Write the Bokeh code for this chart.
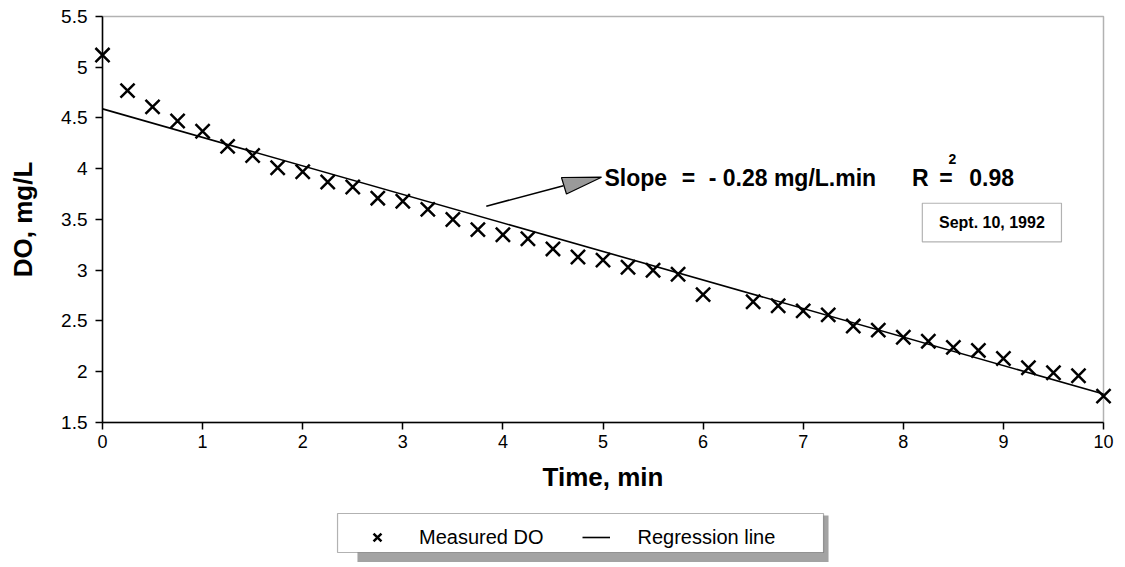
from bokeh.plotting import figure
from bokeh.models import (Range1d, FixedTicker, Legend, LegendItem, Label,
                          BoxAnnotation)
from bokeh.embed import file_html
from bokeh.resources import INLINE

# ---------------- data ----------------
time_min = [0.0, 0.25, 0.5, 0.75, 1.0, 1.25, 1.5, 1.75, 2.0, 2.25,
            2.5, 2.75, 3.0, 3.25, 3.5, 3.75, 4.0, 4.25, 4.5, 4.75,
            5.0, 5.25, 5.5, 5.75, 6.0, 6.5, 6.75, 7.0, 7.25, 7.5,
            7.75, 8.0, 8.25, 8.5, 8.75, 9.0, 9.25, 9.5, 9.75, 10.0]
do_mgL = [5.12, 4.77, 4.61, 4.47, 4.37, 4.22, 4.13, 4.01, 3.97, 3.87,
          3.82, 3.71, 3.68, 3.60, 3.50, 3.40, 3.35, 3.31, 3.21, 3.13,
          3.10, 3.03, 3.00, 2.96, 2.76, 2.69, 2.65, 2.60, 2.56, 2.45,
          2.41, 2.34, 2.30, 2.24, 2.21, 2.13, 2.04, 1.99, 1.96, 1.76]
reg_time = [0.0, 10.0]
reg_do = [4.59, 1.78]

x_ticks = [0, 1, 2, 3, 4, 5, 6, 7, 8, 9, 10]
y_ticks = [1.5, 2.0, 2.5, 3.0, 3.5, 4.0, 4.5, 5.0, 5.5]
y_tick_labels = ["1.5", "2", "2.5", "3", "3.5", "4", "4.5", "5", "5.5"]

series_names = ["Measured DO", "Regression line"]
annotation_text = ["Slope", "=", "- 0.28 mg/L.min", "R", "=", "0.98"]
date_text = "Sept. 10, 1992"

FONT = "Liberation Sans"

# The frame covers the whole canvas so that the legend box (below the axes)
# is not clipped; the axes are pinned at x=0 / y=1.5.
p = figure(width=1120, height=562, output_backend="svg", toolbar_location=None,
           x_range=Range1d(-1.019, 10.1698), y_range=Range1d(0.1207, 5.6576),
           min_border_left=0, min_border_right=0, min_border_top=0,
           min_border_bottom=0, background_fill_color="white",
           border_fill_color="white")

p.xgrid.visible = False
p.ygrid.visible = False
p.outline_line_color = None

# axes
p.xaxis.ticker = FixedTicker(ticks=x_ticks)
p.yaxis.ticker = FixedTicker(ticks=y_ticks)
p.yaxis.major_label_overrides = {t: l for t, l in zip(y_ticks, y_tick_labels)}
p.xaxis.fixed_location = 1.5
p.yaxis.fixed_location = 0
p.xaxis.bounds = (0, 10)
p.yaxis.bounds = (1.5, 5.5)
for ax in (p.xaxis[0], p.yaxis[0]):
    ax.axis_line_color = "black"
    ax.axis_line_width = 1.5
    ax.major_tick_line_color = "black"
    ax.major_tick_line_width = 1.5
    ax.major_tick_out = 7
    ax.major_tick_in = 0
    ax.minor_tick_line_color = None
    ax.major_label_text_font = FONT
    ax.major_label_text_color = "black"
    ax.axis_label_text_font = FONT
    ax.axis_label_text_font_size = "26px"
    ax.axis_label_text_font_style = "bold"
    ax.axis_label_text_color = "black"

p.xaxis.major_label_text_font_size = "18px"
p.yaxis.major_label_text_font_size = "19px"
p.xaxis.major_label_standoff = 6
p.yaxis.major_label_standoff = 8
p.xaxis.axis_label = "Time, min"
p.yaxis.axis_label = "DO, mg/L"
p.xaxis.axis_label_standoff = 10
p.yaxis.axis_label_standoff = 20

# box around the plotting area (top and right sides)
p.add_layout(BoxAnnotation(left=0, right=10, bottom=1.5, top=5.5,
                           fill_alpha=0.0, line_color="black", line_width=1.5))

# data
r_meas = p.scatter(time_min, do_mgL, marker="x", size=20, line_width=2.5,
                   line_color="black")
r_reg = p.line(reg_time, reg_do, line_color="black", line_width=1.6)

# annotation arrow (tapered grey head)
p.line([3.834, 4.605], [3.631, 3.832], line_color="black", line_width=1.6)
p.patch([4.585, 4.635, 4.985], [3.914, 3.751, 3.917], fill_color="#9a9a9a",
        line_color="black", line_width=1.2)

ann_x = [5.015, 5.786, 6.056, 8.088, 8.358, 8.659]
for tx, txt in zip(ann_x, annotation_text):
    p.add_layout(Label(x=tx, y=3.91, text=txt, text_font=FONT,
                       text_font_size="23px", text_font_style="bold",
                       text_baseline="middle", text_align="left",
                       text_color="black"))
p.add_layout(Label(x=8.49, y=4.10, text="2", text_font=FONT,
                   text_font_size="14px", text_font_style="bold",
                   text_baseline="middle", text_align="center",
                   text_color="black"))

# date box
p.add_layout(BoxAnnotation(left=8.19, right=9.58, bottom=3.28, top=3.66,
                           fill_color="white", fill_alpha=1.0,
                           line_color="black", line_width=1.2))
p.add_layout(Label(x=8.885, y=3.47, text=date_text, text_font=FONT,
                   text_font_size="16px", text_font_style="bold",
                   text_baseline="middle", text_align="center",
                   text_color="black"))

# legend box + shadow (below the axes)
p.add_layout(BoxAnnotation(left=2.547, right=7.253, bottom=0.05, top=0.5837,
                           fill_color="#a3a3a3", fill_alpha=1.0,
                           line_color=None))
p.add_layout(BoxAnnotation(left=2.348, right=7.203, bottom=0.2192, top=0.6034,
                           fill_color="white", fill_alpha=1.0,
                           line_color="black", line_width=1.2))

legend = Legend(items=[LegendItem(label=series_names[0], renderers=[r_meas]),
                       LegendItem(label=series_names[1], renderers=[r_reg])],
                orientation="horizontal", location=(363, 11),
                padding=0, margin=0, spacing=38, label_standoff=28,
                glyph_width=28, glyph_height=28, label_height=28,
                label_text_font=FONT, label_text_font_size="20px",
                label_text_color="black",
                border_line_color=None, background_fill_alpha=0.0)
p.add_layout(legend, "center")

open("out.html", "w").write(file_html(p, INLINE))
